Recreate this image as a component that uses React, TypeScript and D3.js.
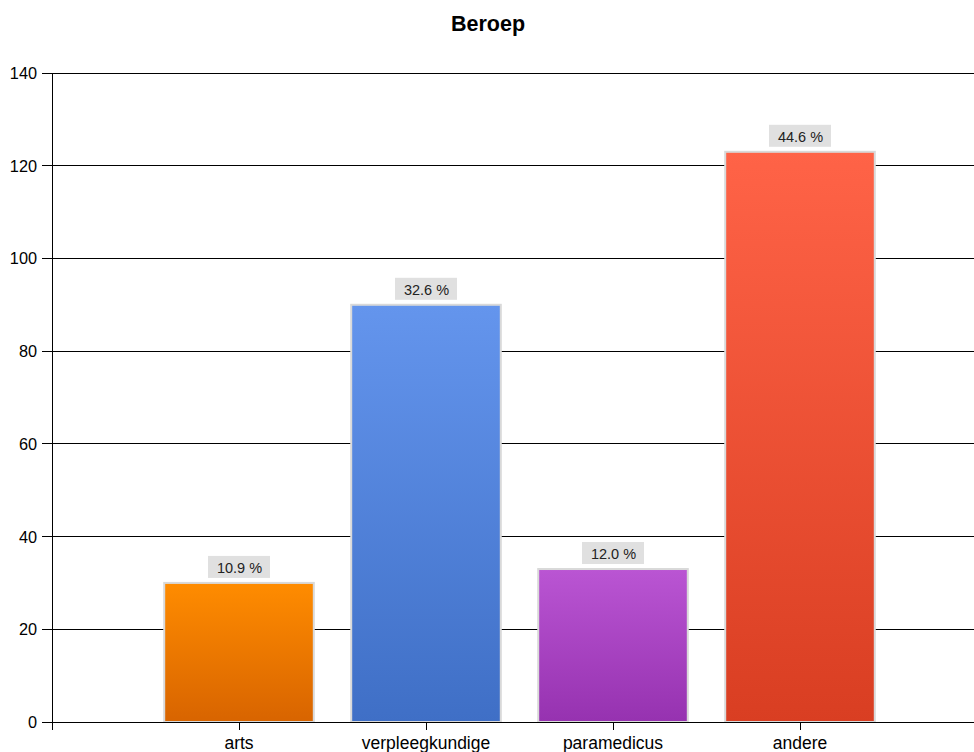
import React from "react";
import * as d3 from "d3";

const categories = ["arts", "verpleegkundige", "paramedicus", "andere"];
const counts = [30, 90, 33, 123];
const topColors = ["#ff8c00", "#6495ed", "#ba55d3", "#ff6347"];
const bottomColors = ["#d86400", "#3f6fc6", "#9632b0", "#d93e22"];
const yTicks = [0, 20, 40, 60, 80, 100, 120, 140];

const W = 974;
const H = 752;
const left = 52;
const top = 73;
const bottom = 722;
const right = 987;

export default function App() {
  const total = d3.sum(counts);
  const x = d3.scaleLinear().domain([0, categories.length + 1]).range([left, right]);
  const y = d3.scaleLinear().domain([0, 140]).range([bottom, top]);
  const step = x(1) - x(0);
  const barW = step * 0.8;
  const font = "'Liberation Sans', Arial, sans-serif";

  return (
    <svg width={W} height={H} style={{ position: "absolute", left: 0, top: 0 }} fontFamily={font}>
      <defs>
        {categories.map((c, i) => (
          <linearGradient key={c} id={`g${i}`} x1="0" y1="0" x2="0" y2="1">
            <stop offset="0" stopColor={topColors[i]} />
            <stop offset="1" stopColor={bottomColors[i]} />
          </linearGradient>
        ))}
      </defs>
      <rect width={W} height={H} fill="#fff" />
      <text x={488} y={31} textAnchor="middle" fontSize={21.5} fontWeight="bold" fill="#000">
        Beroep
      </text>
      {/* horizontal grid lines and y ticks */}
      {yTicks.map((t) => (
        <g key={t}>
          <line x1={left} x2={W} y1={y(t)} y2={y(t)} stroke="#000" strokeWidth={1} shapeRendering="crispEdges" />
          <line x1={left - 10} x2={left} y1={y(t)} y2={y(t)} stroke="#000" strokeWidth={1} shapeRendering="crispEdges" />
          <text x={37} y={y(t) + 6} textAnchor="end" fontSize={16.3} fill="#000">
            {t}
          </text>
        </g>
      ))}
      <line x1={left} x2={left} y1={top} y2={bottom + 8} stroke="#000" strokeWidth={1} shapeRendering="crispEdges" />
      {/* bars */}
      {categories.map((c, i) => {
        const cx = x(i + 1);
        const yTop = y(counts[i]);
        const pct = `${((counts[i] / total) * 100).toFixed(1)} %`;
        return (
          <g key={c}>
            <rect
              x={cx - barW / 2}
              y={yTop}
              width={barW}
              height={bottom - yTop}
              fill={`url(#g${i})`}
              stroke="#d9d9d9"
              strokeWidth={2}
            />
            <rect x={cx - 31} y={yTop - 27} width={62} height={22} fill="#e0e0e0" />
            <text x={cx + 0.5} y={yTop - 10} textAnchor="middle" fontSize={14.5} fill="#222">
              {pct}
            </text>
            <line x1={cx} x2={cx} y1={bottom} y2={bottom + 8} stroke="#000" strokeWidth={1} shapeRendering="crispEdges" />
            <text x={cx} y={748.5} textAnchor="middle" fontSize={17.5} fill="#000">
              {c}
            </text>
          </g>
        );
      })}
      <line x1={left} x2={W} y1={bottom} y2={bottom} stroke="#000" strokeWidth={1} shapeRendering="crispEdges" />
    </svg>
  );
}
